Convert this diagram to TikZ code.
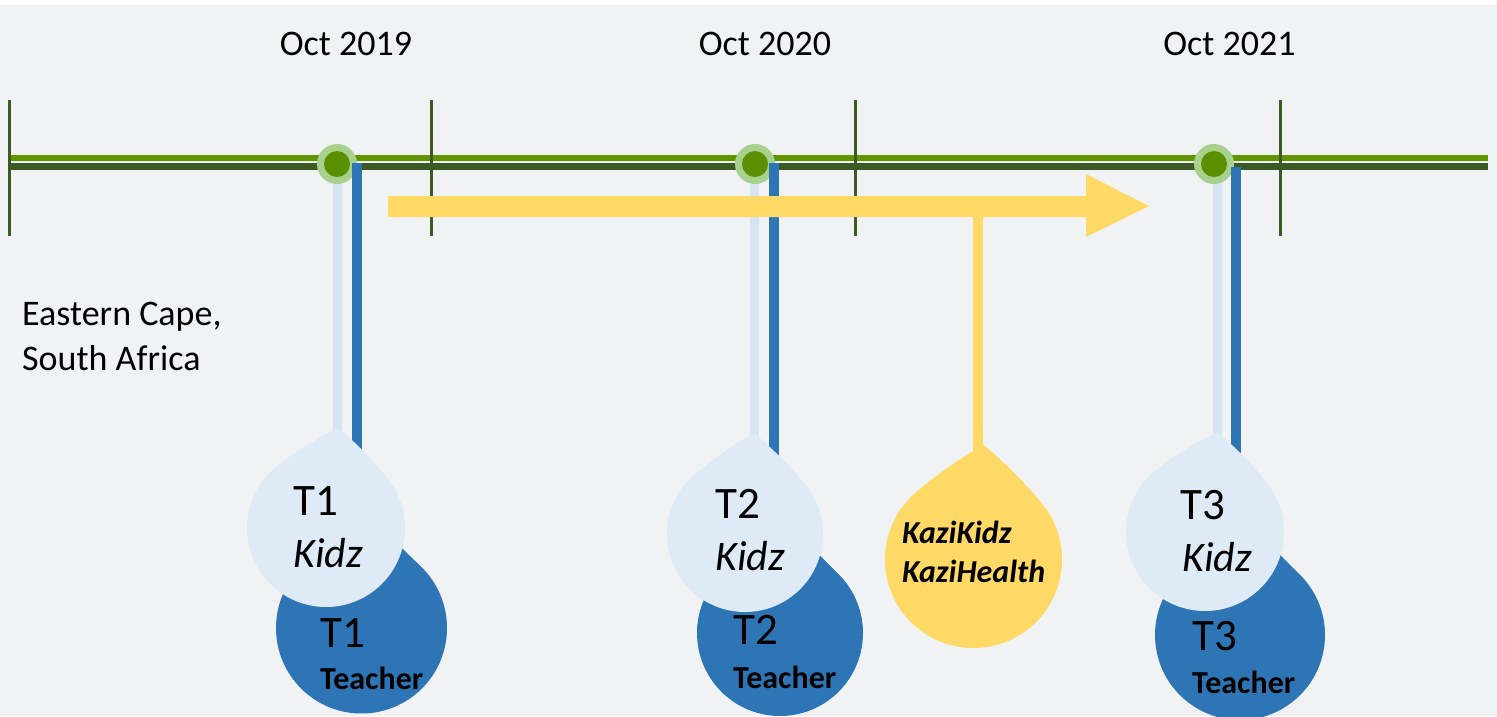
\documentclass[tikz,border=0pt]{standalone}
\usepackage{fontspec}
\setmainfont{Carlito}
\definecolor{bgcol}{HTML}{F1F2F3}
\definecolor{linegreen}{HTML}{629600}
\definecolor{darkgreen}{HTML}{3B5A24}
\definecolor{dotouter}{HTML}{A9D18E}
\definecolor{dotinner}{HTML}{5B9000}
\definecolor{kidzblue}{HTML}{DEEBF7}
\definecolor{teacherblue}{HTML}{2E75B6}
\definecolor{kaziyellow}{HTML}{FFD966}

% Teardrop: centre (#1,-#2), radius #3, tip factor #4, rotation #5, fill colour #6
\newcommand\teardrop[6]{%
  \pgfmathsetmacro\tdr{#3}%
  \pgfmathsetmacro\tdt{#3*#4}%
  \fill[#6, shift={(#1,-#2)}, rotate=#5]
    (-\tdr,0) arc[start angle=180, end angle=90, radius=\tdr]
    .. controls ({\tdt/3},\tdr) and ({2*\tdt/3},{(\tdt+2*\tdr)/3}) .. (\tdt,\tdt)
    .. controls ({(\tdt+2*\tdr)/3},{2*\tdt/3}) and (\tdr,{\tdt/3}) .. (\tdr,0)
    arc[start angle=0, end angle=-180, radius=\tdr] -- cycle;}

\tikzset{
  datelabel/.style={anchor=base, font=\fontsize{36}{40}\selectfont, inner sep=0pt},
  placelabel/.style={anchor=base west, font=\fontsize{36}{40}\selectfont, inner sep=0pt},
  tlabel/.style={anchor=base west, font=\fontsize{45}{50}\selectfont, inner sep=0pt},
  kidzlabel/.style={anchor=base west, font=\fontsize{42}{46}\selectfont\itshape, inner sep=0pt},
  teacherlabel/.style={anchor=base west, font=\fontsize{32}{36}\selectfont\bfseries, inner sep=0pt},
  kazilabel/.style={anchor=base west, font=\fontsize{32}{35}\selectfont\bfseries\itshape, inner sep=0pt},
  tick/.style={darkgreen, line width=3pt},
  kidzstem/.style={kidzblue!95!teacherblue, line width=9pt},
  teacherstem/.style={teacherblue, line width=10pt},
  kazistem/.style={kaziyellow, line width=10pt},
}

\begin{document}
\begin{tikzpicture}[x=1pt, y=1pt]
  % canvas
  \fill[white] (0,0) rectangle (1497,-716);
  \fill[bgcol] (0,-5) rectangle (1497,-716);
  \useasboundingbox (0,0) rectangle (1497,-716);

  % timeline rails
  \coordinate (railA0) at (8,-158);   \coordinate (railA1) at (1488,-158);
  \coordinate (railB0) at (8,-166.5); \coordinate (railB1) at (1488,-166.5);
  \draw[linegreen, line width=6pt] (railA0) -- (railA1);
  \draw[darkgreen, line width=7pt] (railB0) -- (railB1);

  % year ticks
  \foreach \x [count=\i] in {9.5,431,855,1280} {
    \coordinate (tick\i top) at (\x,-100);
    \coordinate (tick\i bot) at (\x,-236);
    \draw[tick] (tick\i top) -- (tick\i bot);
  }

  % date labels
  \node[datelabel] (oct19) at (346,-55) {Oct 2019};
  \node[datelabel] (oct20) at (765,-55) {Oct 2020};
  \node[datelabel] (oct21) at (1229.5,-55) {Oct 2021};

  % place
  \node[placelabel] (place1) at (22,-325) {Eastern Cape,};
  \node[placelabel] (place2) at (22,-370) {South Africa};

  % measurement points
  \coordinate (dot1) at (337,-164);
  \coordinate (dot2) at (755,-164);
  \coordinate (dot3) at (1214,-164);

  % stem anchors
  \coordinate (k1top) at (337.5,-164); \coordinate (k1tip) at (337.5,-445);
  \coordinate (k2top) at (754,-164);   \coordinate (k2tip) at (754,-445);
  \coordinate (k3top) at (1217,-164);  \coordinate (k3tip) at (1217,-445);
  \coordinate (t1top) at (357,-163);   \coordinate (t1tip) at (357,-520);
  \coordinate (t2top) at (774,-163);   \coordinate (t2tip) at (774,-520);
  \coordinate (t3top) at (1236,-167);  \coordinate (t3tip) at (1236,-520);

  % light (kidz) stems, behind the dots
  \draw[kidzstem] (k1top) -- (k1tip);
  \draw[kidzstem] (k2top) -- (k2tip);
  \draw[kidzstem] (k3top) -- (k3tip);

  % dots
  \foreach \d in {dot1,dot2,dot3} {
    \fill[dotouter] (\d) circle[radius=20];
    \fill[dotinner] (\d) circle[radius=13];
  }

  % teacher stems, in front of the dots
  \draw[teacherstem] (t1top) -- (t1tip);
  \draw[teacherstem] (t2top) -- (t2tip);
  \draw[teacherstem] (t3top) -- (t3tip);

  % intervention arrow
  \fill[kaziyellow] (388,-196) -- (1086,-196) -- (1086,-174) -- (1149,-206)
    -- (1086,-237) -- (1086,-217) -- (388,-217) -- cycle;
  \coordinate (kazitop) at (978,-210);
  \coordinate (kazitip) at (978,-460);
  \draw[kazistem] (kazitop) -- (kazitip);

  % teacher drops
  \teardrop{361.5}{628}{85.5}{1.0}{46}{teacherblue}
  \teardrop{780}{633}{83}{1.0}{45}{teacherblue}
  \teardrop{1240}{635}{85}{1.0}{45}{teacherblue}

  % kidz drops
  \teardrop{326}{528}{79}{0.9}{38}{kidzblue}
  \teardrop{745}{534}{78}{0.92}{40}{kidzblue}
  \teardrop{1205}{532}{79}{0.9}{38}{kidzblue}

  % KaziKidz drop
  \teardrop{973.5}{559.5}{88.5}{0.92}{40}{kaziyellow}

  % drop labels
  \node[tlabel] (k1a) at (293,-515) {T1};
  \node[kidzlabel] (k1b) at (293,-567) {Kidz};
  \node[tlabel] (t1a) at (320,-647) {T1};
  \node[teacherlabel] (t1b) at (320,-689) {Teacher};

  \node[tlabel] (k2a) at (715,-518) {T2};
  \node[kidzlabel] (k2b) at (715,-570) {Kidz};
  \node[tlabel] (t2a) at (733,-644) {T2};
  \node[teacherlabel] (t2b) at (733,-688) {Teacher};

  \node[tlabel] (k3a) at (1180,-519) {T3};
  \node[kidzlabel] (k3b) at (1182,-571) {Kidz};
  \node[tlabel] (t3a) at (1192,-650) {T3};
  \node[teacherlabel] (t3b) at (1192,-693) {Teacher};

  \node[kazilabel] (kazi1) at (902,-543) {KaziKidz};
  \node[kazilabel] (kazi2) at (902,-582) {KaziHealth};
\end{tikzpicture}
\end{document}
